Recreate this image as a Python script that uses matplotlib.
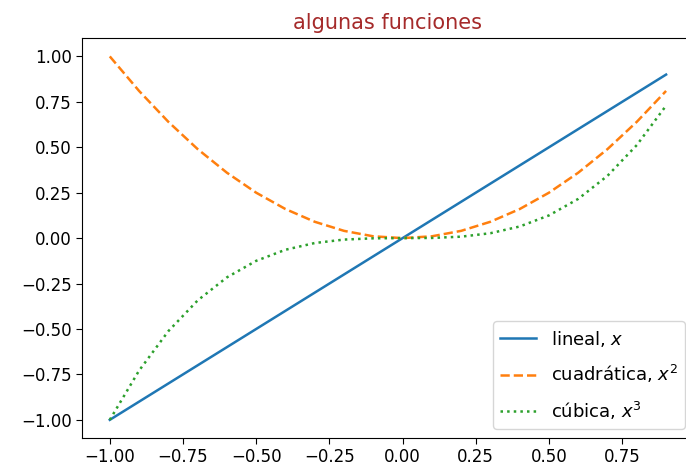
import matplotlib
matplotlib.use("Agg")
import matplotlib.pyplot as plt

x = [-1.0, -0.9, -0.8, -0.7, -0.6, -0.5, -0.4, -0.3, -0.2, -0.1,
     0.0, 0.1, 0.2, 0.3, 0.4, 0.5, 0.6, 0.7, 0.8, 0.9]
lineal = [-1.0, -0.9, -0.8, -0.7, -0.6, -0.5, -0.4, -0.3, -0.2, -0.1,
          0.0, 0.1, 0.2, 0.3, 0.4, 0.5, 0.6, 0.7, 0.8, 0.9]
cuadratica = [1.0, 0.81, 0.64, 0.49, 0.36, 0.25, 0.16, 0.09, 0.04, 0.01,
              0.0, 0.01, 0.04, 0.09, 0.16, 0.25, 0.36, 0.49, 0.64, 0.81]
cubica = [-1.0, -0.729, -0.512, -0.343, -0.216, -0.125, -0.064, -0.027, -0.008, -0.001,
          0.0, 0.001, 0.008, 0.027, 0.064, 0.125, 0.216, 0.343, 0.512, 0.729]

fig = plt.figure(figsize=(6.86, 4.72), dpi=100)
# the axes run slightly past the right edge, as in the reference crop
ax = fig.add_axes([0.1195, 0.072, 0.892, 0.847])

ax.plot(x, lineal, '-', label='lineal, $x$', linewidth=1.8)
ax.plot(x, cuadratica, '--', label='cuadrática, $x^2$', linewidth=1.8)
ax.plot(x, cubica, ':', label='cúbica, $x^3$', linewidth=1.8)

ax.set_title('algunas funciones', color='#a52a2a', fontsize=15, pad=7)
ax.tick_params(labelsize=12, length=4)
ax.legend(loc='lower right', fontsize=13, labelspacing=0.8)

fig.savefig('out.png')
